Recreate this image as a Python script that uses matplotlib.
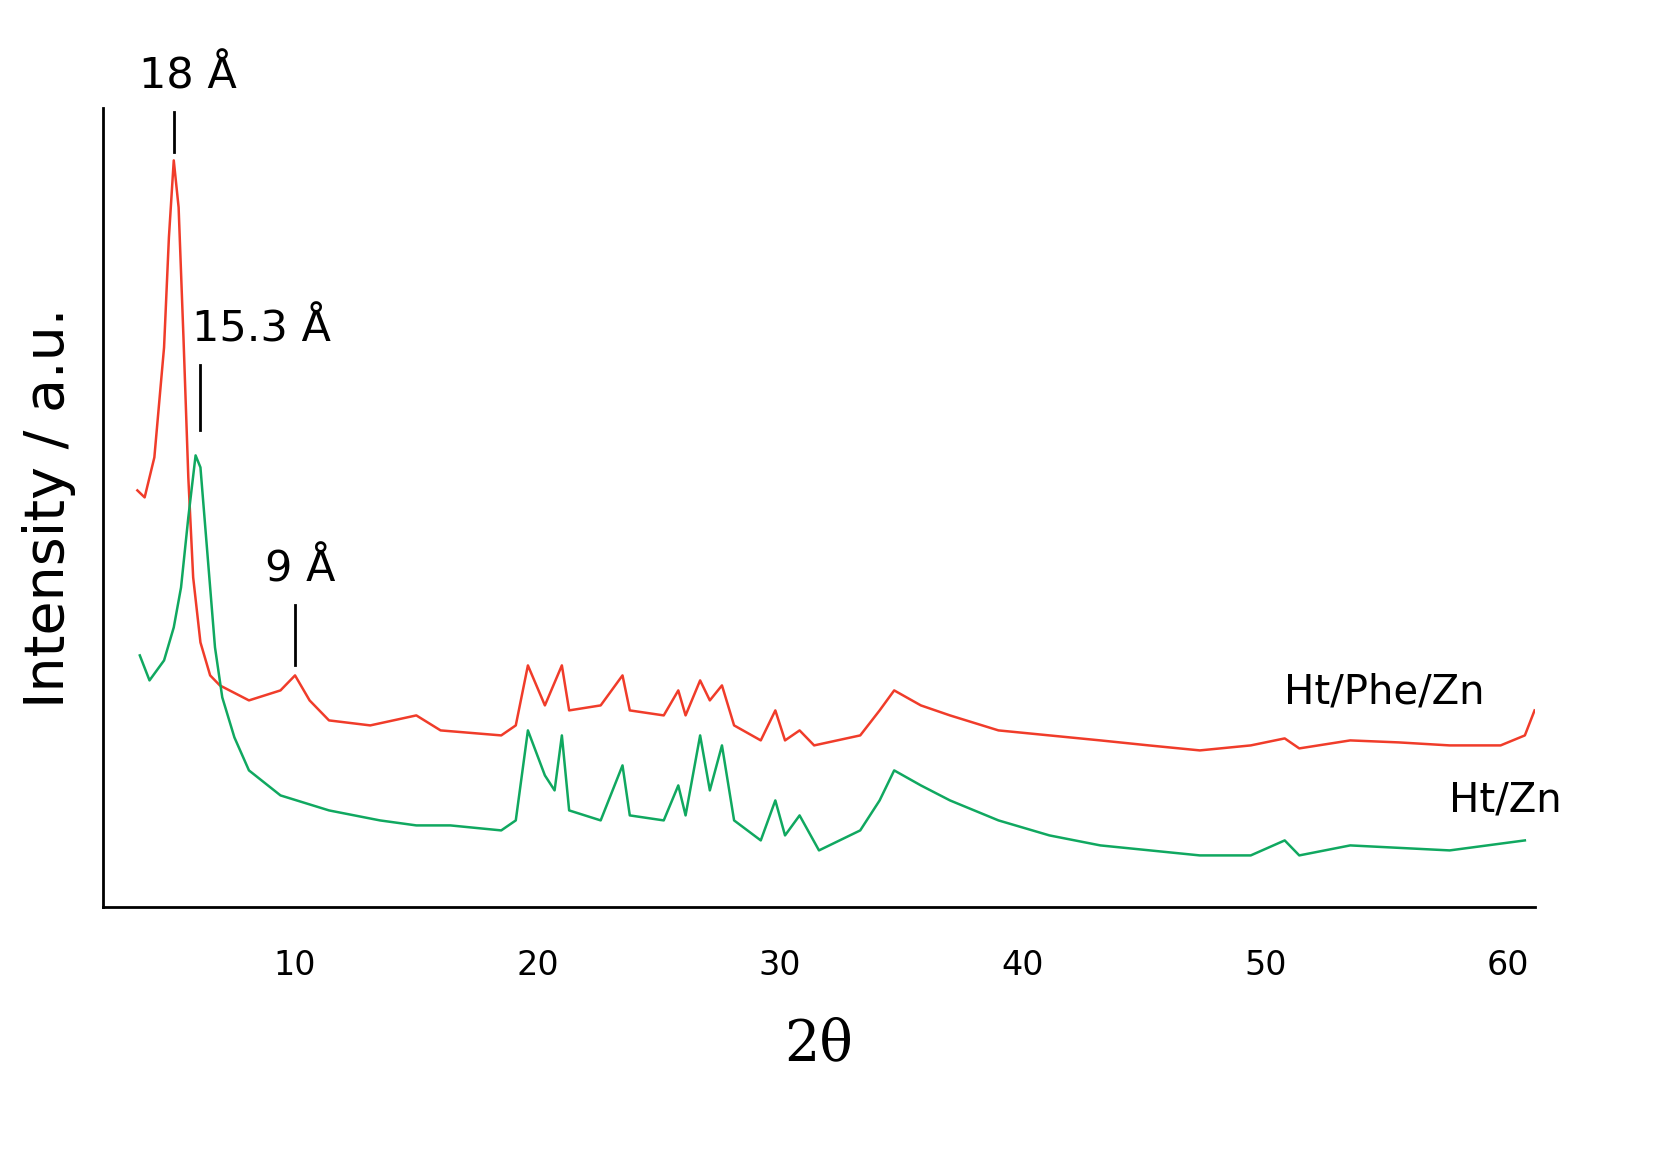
import matplotlib
matplotlib.use("Agg")
import matplotlib.pyplot as plt

red_x = [3.5,3.8,4.2,4.6,4.8,5.0,5.2,5.4,5.6,5.8,6.1,6.5,6.9,8.1,9.4,10.0,10.6,11.4,13.1,15.0,16.0,18.5,19.1,19.6,20.3,21.0,21.3,22.6,23.5,23.8,25.2,25.8,26.1,26.7,27.1,27.6,28.1,29.2,29.8,30.2,30.8,31.4,33.3,34.1,34.7,35.8,37.0,39.0,41.1,43.2,45.2,47.3,49.4,50.8,51.4,53.5,55.5,57.6,59.7,60.7,61.1]
red_y = [417,410,450,560,670,747,700,570,430,330,265,232,222,207,217,232,207,187,182,192,177,172,182,242,202,242,197,202,232,197,192,217,192,227,207,222,182,167,197,167,177,162,172,197,217,202,192,177,172,167,162,157,162,169,159,167,165,162,162,172,197]
green_x = [3.6,4.0,4.6,5.0,5.3,5.6,5.9,6.1,6.4,6.7,7.0,7.5,8.1,9.4,11.4,13.5,15.0,16.4,18.5,19.1,19.6,20.3,20.7,21.0,21.3,22.6,23.5,23.8,25.2,25.8,26.1,26.7,27.1,27.6,28.1,29.2,29.8,30.2,30.8,31.6,33.3,34.1,34.7,35.8,37.0,39.0,41.1,43.2,47.3,49.4,50.8,51.4,53.5,57.6,60.7]
green_y = [252,227,247,280,320,390,452,440,350,260,210,170,137,112,97,87,82,82,77,87,177,132,117,172,97,87,142,92,87,122,92,172,117,162,87,67,107,72,92,57,77,107,137,122,107,87,72,62,52,52,67,52,62,57,67]

series_labels = ["Ht/Phe/Zn", "Ht/Zn"]
peak_labels = ["18 Å", "15.3 Å", "9 Å"]
peak_pos = [5.0, 6.1, 10.0]
peak_text_x = [5.6, 8.6, 10.2]
peak_line = [(755, 795), (477, 542), (242, 302)]
xticks = [10, 20, 30, 40, 50, 60]

fig = plt.figure(figsize=(16.68, 11.53), dpi=100)
ax = fig.add_axes([0.062, 0.213, 0.858, 0.693])
ax.plot(red_x, red_y, color="#f03c2a", lw=1.8)
ax.plot(green_x, green_y, color="#10a860", lw=1.8)
ax.set_xlim(2.1, 61.1)
ax.set_ylim(0, 799)
ax.spines["top"].set_visible(False)
ax.spines["right"].set_visible(False)
ax.spines["left"].set_linewidth(2)
ax.spines["bottom"].set_linewidth(2)
ax.set_yticks([])
ax.set_xticks(xticks)
ax.tick_params(axis="x", length=0, labelsize=24, pad=30)
for x, tx, lab, (y0, y1) in zip(peak_pos, peak_text_x, peak_labels, peak_line):
    ax.plot([x, x], [y0, y1], color="black", lw=2, clip_on=False)
    ax.text(tx, y1 + 15, lab, fontsize=31, ha="center", va="bottom", clip_on=False)
ax.text(54.9, 215, series_labels[0], fontsize=29, ha="center", va="center")
ax.text(59.9, 107, series_labels[1], fontsize=29, ha="center", va="center", clip_on=False)
ax.set_xlabel("2θ", fontsize=40, family="DejaVu Serif", labelpad=25)
ax.set_ylabel("Intensity / a.u.", fontsize=40, labelpad=20)
fig.savefig("out.png", dpi=100)
